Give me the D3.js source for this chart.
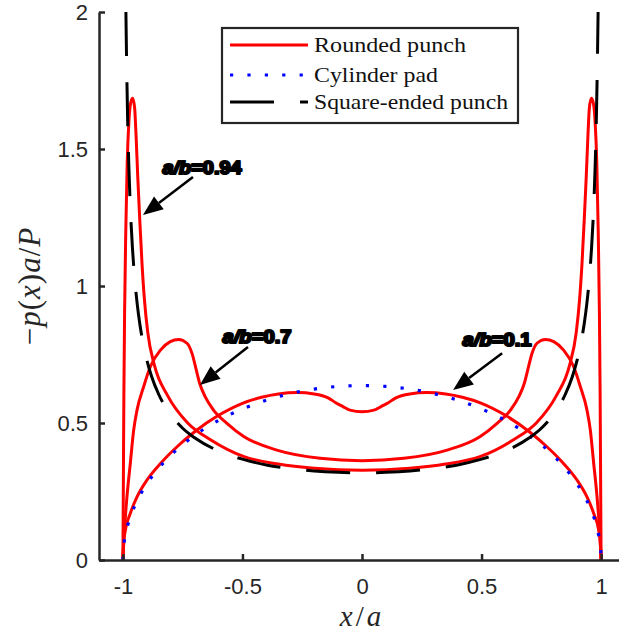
<!DOCTYPE html>
<html>
<head>
<meta charset="utf-8">
<script src="https://cdn.jsdelivr.net/npm/d3@7/dist/d3.min.js"></script>
<style>
  html, body { margin: 0; padding: 0; background: #fff; }
  svg { display: block; }
</style>
</head>
<body>
<svg id="chart" width="619" height="642"></svg>
<script>
// ---------------- data ----------------
const xTicks = [-1, -0.5, 0, 0.5, 1];
const xTickLabels = ["-1", "-0.5", "0", "0.5", "1"];
const yTicks = [0, 0.5, 1, 1.5, 2];
const yTickLabels = ["0", "0.5", "1", "1.5", "2"];

const legendLabels = ["Rounded punch", "Cylinder pad", "Square-ended punch"];

// Rounded punch, a/b = 0.1
const r01X = [-1, -0.997, -0.99, -0.97, -0.94, -0.9, -0.84, -0.77, -0.7, -0.6, -0.5, -0.42, -0.35, -0.27, -0.2, -0.14, -0.11, -0.08, -0.05, 0,
              0.05, 0.08, 0.11, 0.14, 0.2, 0.27, 0.35, 0.42, 0.5, 0.6, 0.7, 0.77, 0.84, 0.9, 0.94, 0.97, 0.99, 0.997, 1];
const r01Y = [0, 0.06, 0.108, 0.168, 0.232, 0.291, 0.355, 0.416, 0.468, 0.528, 0.572, 0.594, 0.606, 0.611, 0.606, 0.591, 0.574, 0.56, 0.547, 0.541,
              0.547, 0.56, 0.574, 0.591, 0.606, 0.611, 0.606, 0.594, 0.572, 0.528, 0.468, 0.416, 0.355, 0.291, 0.232, 0.168, 0.108, 0.06, 0];

// Rounded punch, a/b = 0.7
const r07X = [-1, -0.996, -0.983, -0.969, -0.955, -0.941, -0.913, -0.885, -0.843, -0.802, -0.767, -0.732, -0.711, -0.693, -0.679, -0.656, -0.621, -0.565, -0.493, -0.356, -0.175, 0,
              0.175, 0.356, 0.493, 0.565, 0.621, 0.656, 0.679, 0.693, 0.711, 0.732, 0.767, 0.802, 0.843, 0.885, 0.913, 0.941, 0.955, 0.969, 0.983, 0.996, 1];
const r07Y = [0, 0.073, 0.231, 0.353, 0.474, 0.547, 0.633, 0.706, 0.766, 0.797, 0.805, 0.791, 0.754, 0.693, 0.645, 0.596, 0.547, 0.499, 0.45, 0.401, 0.371, 0.362,
              0.371, 0.401, 0.45, 0.499, 0.547, 0.596, 0.645, 0.693, 0.754, 0.791, 0.805, 0.797, 0.766, 0.706, 0.633, 0.547, 0.474, 0.353, 0.231, 0.073, 0];

// Rounded punch, a/b = 0.94
const r94X = [-1, -0.998, -0.996, -0.993, -0.988, -0.982, -0.975, -0.967, -0.959, -0.951, -0.945, -0.938, -0.93, -0.92, -0.91, -0.896, -0.868, -0.813, -0.729, -0.632, -0.493, -0.35, -0.2, 0,
              0.2, 0.35, 0.493, 0.632, 0.729, 0.813, 0.868, 0.896, 0.91, 0.92, 0.93, 0.938, 0.945, 0.951, 0.959, 0.967, 0.975, 0.982, 0.988, 0.993, 0.996, 0.998, 1];
const r94Y = [0, 0.3, 0.6, 0.9, 1.2, 1.45, 1.6, 1.67, 1.685, 1.65, 1.55, 1.4, 1.25, 1.08, 0.95, 0.83, 0.71, 0.60, 0.50, 0.438, 0.377, 0.35, 0.335, 0.328,
              0.335, 0.35, 0.377, 0.438, 0.50, 0.60, 0.71, 0.83, 0.95, 1.08, 1.25, 1.4, 1.55, 1.65, 1.685, 1.67, 1.6, 1.45, 1.2, 0.9, 0.6, 0.3, 0];

// Cylinder pad
const cylX = [-1, -0.999, -0.995, -0.99, -0.98, -0.95, -0.9, -0.85, -0.8, -0.7, -0.6, -0.5, -0.4, -0.3, -0.2, -0.1, 0,
              0.1, 0.2, 0.3, 0.4, 0.5, 0.6, 0.7, 0.8, 0.85, 0.9, 0.95, 0.98, 0.99, 0.995, 0.999, 1];
const cylY = [0, 0.0285, 0.0636, 0.0898, 0.1267, 0.1988, 0.2775, 0.3354, 0.382, 0.4546, 0.5093, 0.5513, 0.5835, 0.6073, 0.6238, 0.6334, 0.6366,
              0.6334, 0.6238, 0.6073, 0.5835, 0.5513, 0.5093, 0.4546, 0.382, 0.3354, 0.2775, 0.1988, 0.1267, 0.0898, 0.0636, 0.0285, 0];

// Square-ended punch
const sqX = [-0.9875, -0.985, -0.98, -0.975, -0.97, -0.96, -0.95, -0.94, -0.93, -0.92, -0.9, -0.88, -0.85, -0.8, -0.75, -0.7, -0.6, -0.5, -0.4, -0.3, -0.2, -0.1, 0,
             0.1, 0.2, 0.3, 0.4, 0.5, 0.6, 0.7, 0.75, 0.8, 0.85, 0.88, 0.9, 0.92, 0.93, 0.94, 0.95, 0.96, 0.97, 0.975, 0.98, 0.985, 0.9875];
const sqY = [2.0, 1.845, 1.6, 1.4325, 1.309, 1.137, 1.0195, 0.933, 0.866, 0.812, 0.73, 0.67, 0.604, 0.531, 0.481, 0.446, 0.398, 0.368, 0.347, 0.334, 0.325, 0.32, 0.318,
             0.32, 0.325, 0.334, 0.347, 0.368, 0.398, 0.446, 0.481, 0.531, 0.604, 0.67, 0.73, 0.812, 0.866, 0.933, 1.0195, 1.137, 1.309, 1.4325, 1.6, 1.845, 2.0];

// Annotations (data coordinates): label, text x/y, arrow tail x/y, arrow head x/y
const annLabels = ["0.94", "0.7", "0.1"];
const annTextX = [-0.669, -0.439, 0.565];
const annTextY = [1.434, 0.818, 0.807];
const annTailX = [-0.707, -0.477, 0.586];
const annTailY = [1.398, 0.777, 0.755];
const annHeadX = [-0.916, -0.678, 0.381];
const annHeadY = [1.259, 0.639, 0.62];

// ---------------- drawing ----------------
const svg = d3.select("#chart");
const axisColor = "#262626";
const serifFont = '"Liberation Serif", "Times New Roman", serif';
const sansFont = '"Liberation Sans", Arial, sans-serif';

const x = d3.scaleLinear().domain([-1.1, 1.1]).range([99, 625]);
const y = d3.scaleLinear().domain([0, 2]).range([560, 12]);

svg.append("defs").append("clipPath").attr("id", "plotclip")
  .append("rect").attr("x", 99).attr("y", 12).attr("width", 530).attr("height", 550);

const zip = (xs, ys) => xs.map((v, i) => [v, ys[i]]);
const line = d3.line().x(d => x(d[0])).y(d => y(d[1])).curve(d3.curveMonotoneX);

const plot = svg.append("g").attr("clip-path", "url(#plotclip)");

[[r01X, r01Y], [r07X, r07Y], [r94X, r94Y]].forEach(([xs, ys]) => {
  plot.append("path").datum(zip(xs, ys))
    .attr("d", line).attr("fill", "none")
    .attr("stroke", "#ff0000").attr("stroke-width", 3).attr("stroke-linejoin", "round");
});

plot.append("path").datum(zip(cylX, cylY))
  .attr("d", line).attr("fill", "none")
  .attr("stroke", "#0000ff").attr("stroke-width", 3.2)
  .attr("stroke-dasharray", "3.2,14.2");

plot.append("path").datum(zip(sqX, sqY))
  .attr("d", line).attr("fill", "none")
  .attr("stroke", "#000").attr("stroke-width", 3)
  .attr("stroke-dasharray", "44,26");

// axes
const yAxis = d3.axisLeft(y).tickValues(yTicks).tickFormat((d, i) => yTickLabels[i])
  .tickSizeInner(-6).tickSizeOuter(0).tickPadding(11);
const xAxis = d3.axisBottom(x).tickValues(xTicks).tickFormat((d, i) => xTickLabels[i])
  .tickSizeInner(-6).tickSizeOuter(0).tickPadding(18);

const gy = svg.append("g").attr("transform", "translate(99,0)").call(yAxis);
const gx = svg.append("g").attr("transform", "translate(0,560)").call(xAxis);
[gx, gy].forEach(g => {
  g.select(".domain").attr("stroke", axisColor).attr("stroke-width", 2.5);
  g.selectAll(".tick line").attr("stroke", axisColor).attr("stroke-width", 2.5);
  g.selectAll(".tick text").attr("fill", axisColor)
    .style("font-family", sansFont).style("font-size", "22px");
});

// axis titles
const yl = svg.append("text")
  .attr("transform", "translate(40,286) rotate(-90)")
  .attr("text-anchor", "middle")
  .style("font-family", serifFont).style("font-size", "31px").style("letter-spacing", "1px")
  .attr("fill", axisColor);
[["\u2212", false], ["p", true], ["(", false], ["x", true], [")", false], ["a", true], ["/", false], ["P", true]]
  .forEach(([t, it]) => yl.append("tspan").text(t).style("font-style", it ? "italic" : "normal"));

const xl = svg.append("text")
  .attr("x", 362).attr("y", 626).attr("text-anchor", "middle")
  .style("font-family", serifFont).style("font-size", "29px").style("letter-spacing", "3px")
  .attr("fill", axisColor);
[["x", true], ["/", false], ["a", true]]
  .forEach(([t, it]) => xl.append("tspan").text(t).style("font-style", it ? "italic" : "normal"));

// legend
const lg = svg.append("g");
lg.append("rect").attr("x", 222).attr("y", 28).attr("width", 296).attr("height", 95)
  .attr("fill", "#fff").attr("stroke", axisColor).attr("stroke-width", 2.2);
const rowY = [45, 75, 102];
const rowStyles = [
  { stroke: "#ff0000", dash: null, w: 3 },
  { stroke: "#0000ff", dash: "3.2,14.2", w: 3.2 },
  { stroke: "#000", dash: "44,26", w: 3 }
];
const textLens = [152, 124, 194];
legendLabels.forEach((lab, i) => {
  const l = lg.append("line").attr("x1", 230).attr("x2", 308).attr("y1", rowY[i]).attr("y2", rowY[i])
    .attr("stroke", rowStyles[i].stroke).attr("stroke-width", rowStyles[i].w);
  if (rowStyles[i].dash) l.attr("stroke-dasharray", rowStyles[i].dash);
  lg.append("text").attr("x", 314).attr("y", rowY[i] + 7)
    .attr("textLength", textLens[i]).attr("lengthAdjust", "spacingAndGlyphs")
    .style("font-family", serifFont).style("font-size", "22px").attr("fill", "#111").text(lab);
});

// annotations
const ann = svg.append("g");
annLabels.forEach((lab, i) => {
  const t = ann.append("text")
    .attr("x", x(annTextX[i])).attr("y", y(annTextY[i]) + 7)
    .attr("text-anchor", "middle")
    .attr("textLength", i === 0 ? 79 : 69).attr("lengthAdjust", "spacingAndGlyphs")
    .style("font-family", sansFont).style("font-size", "19px")
    .style("font-weight", "bold").attr("fill", "#000").attr("stroke", "#000").attr("stroke-width", 2.2)
    .attr("stroke-linejoin", "round");
  t.append("tspan").style("font-style", "italic").text("a/b");
  t.append("tspan").text("=" + lab);

  const x1 = x(annTailX[i]), y1 = y(annTailY[i]);
  const x2 = x(annHeadX[i]), y2 = y(annHeadY[i]);
  const ang = Math.atan2(y2 - y1, x2 - x1);
  const hl = 20, hw = 8;
  const bx = x2 - hl * Math.cos(ang), by = y2 - hl * Math.sin(ang);
  ann.append("line").attr("x1", x1).attr("y1", y1).attr("x2", bx).attr("y2", by)
    .attr("stroke", "#000").attr("stroke-width", 2.5);
  ann.append("path")
    .attr("d", `M${x2},${y2} L${bx + hw * Math.sin(ang)},${by - hw * Math.cos(ang)} L${bx - hw * Math.sin(ang)},${by + hw * Math.cos(ang)} Z`)
    .attr("fill", "#000");
});
</script>
</body>
</html>
